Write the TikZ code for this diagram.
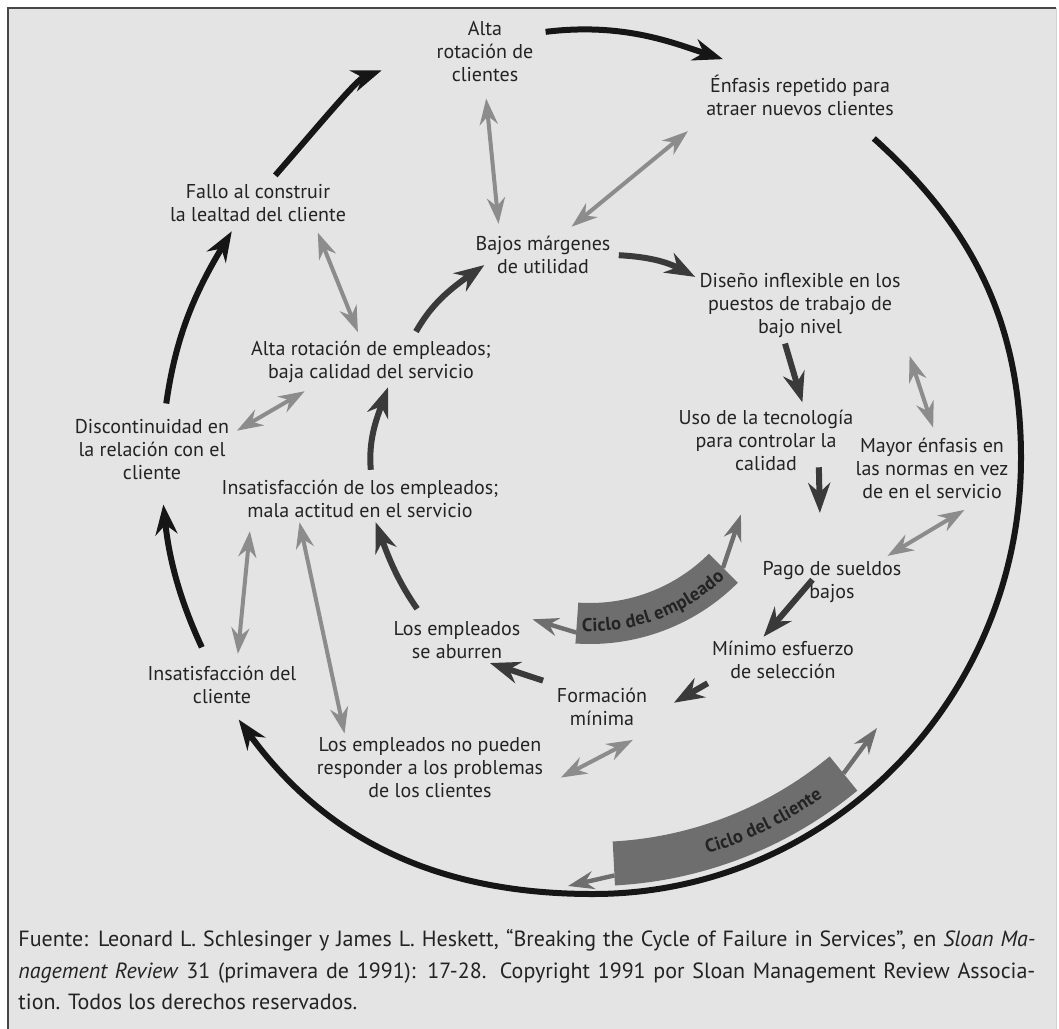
\documentclass[tikz,border=0pt]{standalone}
\usepackage{fontspec}
\setmainfont{PT Sans}
\usepackage{tikz}
\usetikzlibrary{arrows.meta, calc, decorations.text}
\definecolor{panel}{RGB}{228,228,228}
\definecolor{framegray}{RGB}{70,70,70}
\definecolor{inkblack}{RGB}{22,22,22}
\definecolor{empgray}{RGB}{58,58,58}
\definecolor{linkgray}{RGB}{140,140,140}
\definecolor{bandgray}{RGB}{110,110,110}
\definecolor{labelink}{RGB}{35,35,35}
\newcommand{\labelfont}{\fontsize{10}{11.5}\selectfont}
\newcommand{\bandfont}{\fontsize{9.3}{11}\selectfont\bfseries}
\tikzset{
  lbl/.style     = {align=center, inner sep=2pt, font=\labelfont, text=labelink},
  cyc/.style     = {-{Stealth[length=15pt, width=11pt]}, line width=3pt, color=inkblack},
  emp/.style     = {-{Stealth[length=15pt, width=11pt]}, line width=3pt, color=empgray},
  link/.style    = {{Stealth[length=13pt, width=9pt]}-{Stealth[length=13pt, width=9pt]},
                    line width=2pt, color=linkgray},
  bandarr/.style = {-{Stealth[length=13pt, width=9pt]}, line width=2.2pt, color=bandgray},
  band/.style    = {fill=bandgray},
  bandtext/.style = {decorate, decoration={text along path, text align=center,
                     raise=-3.3pt, text color=labelink, text={|\bandfont|#1}}},
}

\begin{document}
\begin{tikzpicture}[x=0.5pt, y=0.5pt]

  \useasboundingbox (0,0) rectangle (1059,-1028);

  %─── Panel ─────────────────────────────────────────────────────────────────
  \fill[panel] (8,-8) rectangle (1056,-1030);
  \draw[framegray, line width=1pt] (8,-1030) -- (8,-8) -- (1056,-8);
  \draw[gray!35, line width=0.5pt] (1056,-8) -- (1056,-1030);

  %─── Customer cycle (outer ring) ───────────────────────────────────────────
  \node[lbl] at (485,-52)  (altacli)   {Alta\\rotación de\\clientes};
  \node[lbl] at (800,-95)  (enfasis)   {Énfasis repetido para\\atraer nuevos clientes};
  \node[lbl] at (258,-203) (fallo)     {Fallo al construir\\la lealtad del cliente};
  \node[lbl] at (152,-450) (discont)   {Discontinuidad en\\la relación con el\\cliente};
  \node[lbl] at (222,-685) (insatcli)  {Insatisfacción del\\cliente};

  %─── Employee cycle (inner ring) ───────────────────────────────────────────
  \node[lbl] at (543,-255) (bajos)     {Bajos márgenes\\de utilidad};
  \node[lbl] at (800,-305) (diseno)    {Diseño inflexible en los\\puestos de trabajo de\\bajo nivel};
  \node[lbl] at (766,-440) (uso)       {Uso de la tecnología\\para controlar la\\calidad};
  \node[lbl] at (832,-582) (pago)      {Pago de sueldos\\bajos};
  \node[lbl] at (783,-660) (seleccion) {Mínimo esfuerzo\\de selección};
  \node[lbl] at (602,-707) (formacion) {Formación\\mínima};
  \node[lbl] at (457,-640) (aburren)   {Los empleados\\se aburren};
  \node[lbl] at (360,-499) (insatemp)  {Insatisfacción de los empleados;\\mala actitud en el servicio};
  \node[lbl] at (371,-362) (rotemp)    {Alta rotación de empleados;\\baja calidad del servicio};

  %─── Side effects ──────────────────────────────────────────────────────────
  \node[lbl] at (932,-468) (normas)    {Mayor énfasis en\\las normas en vez\\de en el servicio};
  \node[lbl] at (430,-768) (nopueden)  {Los empleados no pueden\\responder a los problemas\\de los clientes};

  %─── Ring helpers ──────────────────────────────────────────────────────────
  \coordinate (ring)   at (593,-458);
  \coordinate (rimE)   at (1021,-458);
  \coordinate (rimS)   at (593,-894);
  \coordinate (emphub) at (590,-435);

  %─── Cycle bands ───────────────────────────────────────────────────────────
  \fill[band] ($(emphub)+(-94:168)$) arc[start angle=-94, end angle=-45, radius=168]
        -- ($(emphub)+(-45:209)$) arc[start angle=-45, end angle=-94, radius=209] -- cycle;
  \path[bandtext={Ciclo del empleado}]
        ($(emphub)+(-96:190)$) arc[start angle=-96, end angle=-43, radius=190];

  \fill[band] ($(ring)+(-87:376 and 384)$) arc[start angle=-87, end angle=-51, x radius=376, y radius=384]
        -- ($(ring)+(-51:420 and 428)$) arc[start angle=-51, end angle=-87, x radius=420, y radius=428] -- cycle;
  \path[bandtext={Ciclo del cliente}]
        ($(ring)+(-78:398 and 406)$) arc[start angle=-78, end angle=-51, x radius=398, y radius=406];

  \coordinate (empR)    at ($(emphub)+(-45:188)$);
  \coordinate (empL)    at ($(emphub)+(-94:198)$);
  \coordinate (cliR)    at ($(ring)+(-51:398 and 406)$);
  \coordinate (cliRtip) at (877,-728);
  \coordinate (cliL)    at ($(ring)+(-87:410 and 418)$);
  \coordinate (cliLtip) at (568,-886);

  %─── Edges ─────────────────────────────────────────────────────────────────
  % Outer ring: customer cycle
  \draw[cyc, shorten <=8pt, shorten >=10pt] (insatcli.120) to[out=115, in=-84] (discont.-75);
  \draw[cyc, shorten <=6pt, shorten >=3pt] (discont.70) to[out=82, in=239] (fallo.-135);
  \draw[cyc, shorten <=3pt, shorten >=27pt] (fallo.60) to[out=49, in=200] (altacli.west);
  \draw[cyc, shorten <=4pt, shorten >=18pt] (altacli.20) to[out=7, in=162] (enfasis.150);
  \draw[cyc, shorten <=14pt, shorten >=7pt] (enfasis.-25) to[out=-42, in=90] (rimE)
        arc[start angle=0, end angle=-90, x radius=428, y radius=436]
        to[out=180, in=-54] (insatcli.-70);

  % Inner ring: employee cycle
  \draw[emp, shorten <=2pt] (bajos.east) to[out=-3, in=152] (diseno.165);
  \draw[emp, shorten <=1pt, shorten >=1.5pt] (diseno.-113) -- (uso.43);
  \draw[emp, shorten <=31pt, shorten >=22pt] (uso.34) -- (pago.114);
  \draw[emp, shorten <=15pt] (pago.north) -- (seleccion.130);
  \draw[emp, shorten >=13pt] (seleccion.south west) -- (formacion.-10);
  \draw[emp, shorten <=5pt] (formacion.north west) -- (aburren.-35);
  \draw[emp, shorten <=5pt] (aburren.146) to[out=125, in=-70] (insatemp.-56);
  \draw[emp, shorten <=3pt] (insatemp.64) to[out=95, in=-110] (rotemp.-56);
  \draw[emp, shorten <=3pt, shorten >=-8pt] (rotemp.31) to[out=60, in=-145] (bajos.195);

  % Links between the two rings
  \draw[link, shorten <=6pt, shorten >=4pt] (altacli.south) -- (bajos.152);
  \draw[link, shorten <=9pt, shorten >=4pt] (enfasis.south west) -- (bajos.46);
  \draw[link, shorten <=3.5pt, shorten >=2.5pt] (fallo.-22) -- (rotemp.114);
  \draw[link, shorten <=2pt, shorten >=4pt] (discont.12) -- (rotemp.-157);
  \draw[link, shorten <=4pt, shorten >=4.5pt] (insatcli.57) -- (insatemp.-168);
  \draw[link] (insatemp.-159) -- (nopueden.158);
  \draw[link, shorten <=10.5pt, shorten >=7.5pt] (formacion.south east) -- (nopueden.-8);
  \draw[link, shorten <=7.5pt, shorten >=3pt] (diseno.south east) -- (normas.85);
  \draw[link, shorten <=7pt, shorten >=1pt] (normas.-38) -- (pago.25);

  % Band arrows
  \draw[bandarr, shorten >=21pt] (empR) -- (uso);
  \draw[bandarr, shorten >=4pt] (empL) -- (aburren.north east);
  \draw[bandarr] (cliR) -- (cliRtip);
  \draw[bandarr] (cliL) -- (cliLtip);

  %─── Source ────────────────────────────────────────────────────────────────
  \node[anchor=north west, inner sep=0pt, align=left, text=labelink,
        font=\fontsize{11}{15.75}\selectfont] at (18,-929) (fuente)
  {\makebox[508.5pt][s]{Fuente: Leonard L. Schlesinger y James L. Heskett, “Breaking the Cycle of Failure in Services”, en \textit{Sloan Ma-}}\\
   \makebox[508.5pt][s]{\textit{nagement Review} 31 (primavera de 1991): 17-28. Copyright 1991 por Sloan Management Review Associa-}\\
   tion. Todos los derechos reservados.};

\end{tikzpicture}
\end{document}
